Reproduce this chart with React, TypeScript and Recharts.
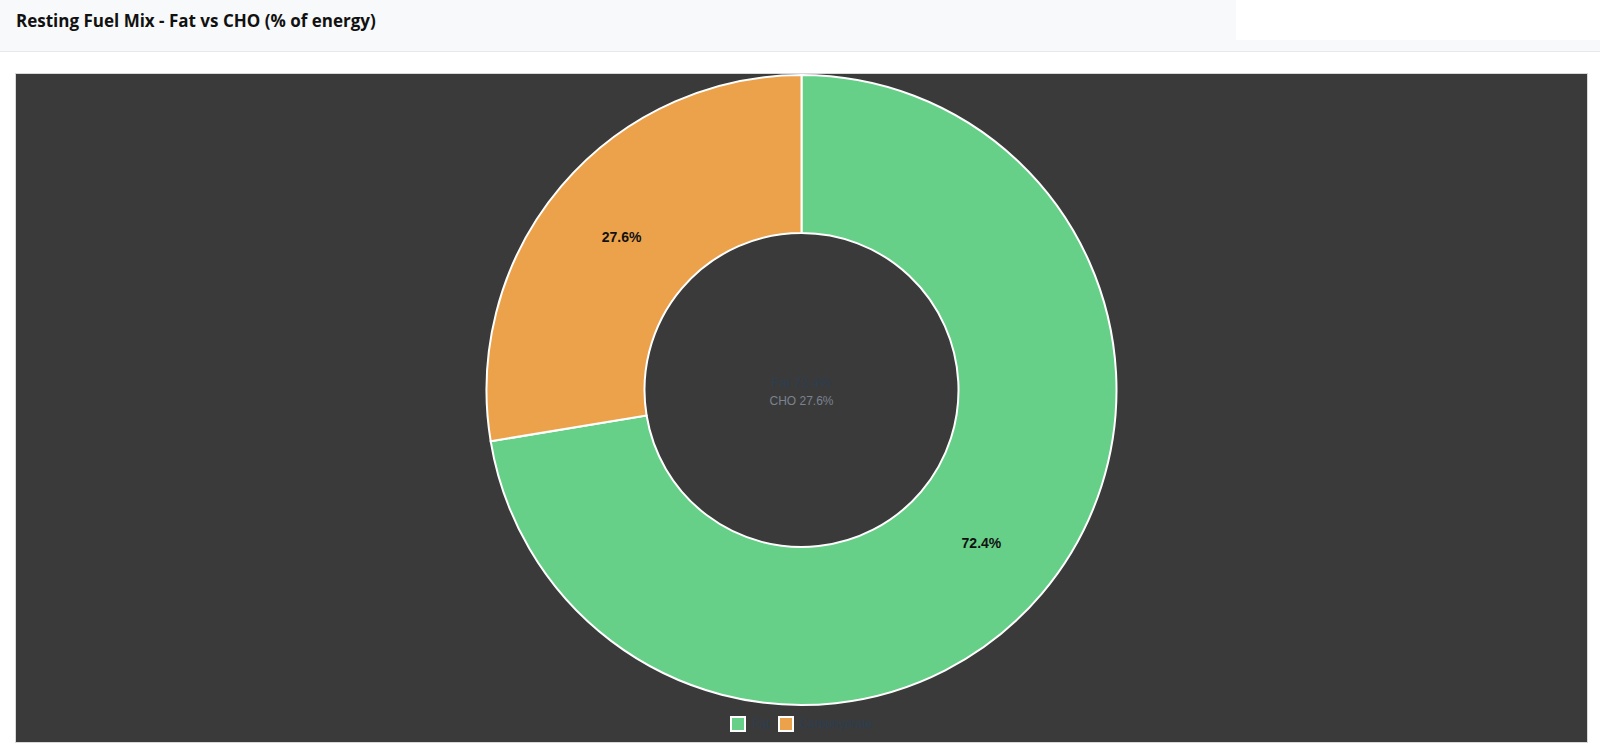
import React from "react";
import { PieChart, Pie, Cell, Legend, Label } from "recharts";

const categories = ["Fat", "Carbohydrate"];
const shortNames = ["Fat", "CHO"];
const values = [72.4, 27.6];
const colors = ["#66cf88", "#eba24b"];

const data = categories.map((name, i) => ({ name, value: values[i] }));

const CHART_W = 1571;
const CHART_H = 668;
const PIE_CX = 785.5;
const PIE_CY = 316;

const RADIAN = Math.PI / 180;

const renderSliceLabel = (props: any) => {
  const { cx, cy, midAngle, innerRadius, outerRadius, percent } = props;
  const r = (innerRadius + outerRadius) / 2;
  const x = cx + r * Math.cos(-midAngle * RADIAN);
  const y = cy + r * Math.sin(-midAngle * RADIAN);
  return (
    <text
      x={x}
      y={y}
      fill="#111"
      textAnchor="middle"
      dominantBaseline="central"
      fontFamily="'Liberation Sans', Arial, sans-serif"
      fontWeight="bold"
      fontSize={14}
    >
      {(percent * 100).toFixed(1)}%
    </text>
  );
};

const CenterLabel = () => {
  const cx = PIE_CX;
  const cy = PIE_CY;
  return (
    <g fontFamily="'Liberation Sans', Arial, sans-serif">
      <text x={cx} y={cy - 8} textAnchor="middle" dominantBaseline="central" fontSize={13} fill="#2c3e50">
        {`${shortNames[0]} ${values[0].toFixed(1)}%`}
      </text>
      <text x={cx} y={cy + 11} textAnchor="middle" dominantBaseline="central" fontSize={12} fill="#7a8290">
        {`${shortNames[1]} ${values[1].toFixed(1)}%`}
      </text>
    </g>
  );
};

const LegendContent = () => (
  <div
    style={{
      display: "flex",
      justifyContent: "center",
      alignItems: "center",
      fontFamily: "'Liberation Sans', Arial, sans-serif",
      fontSize: 12,
      color: "#2c3e50",
      height: 16,
    }}
  >
    {categories.map((c, i) => (
      <div key={c} style={{ display: "flex", alignItems: "center", marginRight: i === 0 ? 8 : 0 }}>
        <span
          style={{
            display: "inline-block",
            width: 12,
            height: 12,
            background: colors[i],
            border: "2px solid #ffffff",
            marginRight: 6,
          }}
        />
        <span>{c}</span>
      </div>
    ))}
  </div>
);

export default function App() {
  return (
    <div style={{ position: "absolute", left: 0, top: 0, width: 1600, height: 748, background: "#ffffff", overflow: "hidden" }}>
      <div
        style={{
          position: "absolute",
          left: 0,
          top: 0,
          width: 1600,
          height: 51,
          background: "#f8f9fa",
          borderBottom: "1px solid #e6e8eb",
        }}
      />
      <div style={{ position: "absolute", left: 1236, top: 0, width: 364, height: 40, background: "#ffffff" }} />
      <div
        style={{
          position: "absolute",
          left: 16,
          top: 9,
          fontFamily: "'Open Sans', sans-serif",
          fontWeight: 700,
          fontSize: 17,
          color: "#111",
          lineHeight: "24px",
        }}
      >
        Resting Fuel Mix - Fat vs CHO (% of energy)
      </div>
      <div
        style={{
          position: "absolute",
          left: 15,
          top: 73,
          width: 1573,
          height: 670,
          border: "1px solid #d8d8d8",
          boxSizing: "border-box",
        }}
      />
      <div style={{ position: "absolute", left: 16, top: 74, width: CHART_W, height: CHART_H, background: "#3a3a3a" }}>
        <PieChart width={CHART_W} height={CHART_H} margin={{ top: 0, right: 0, bottom: 0, left: 0 }}>
          <Pie
            data={data}
            dataKey="value"
            nameKey="name"
            cx={PIE_CX}
            cy={PIE_CY}
            outerRadius={315}
            innerRadius={157}
            startAngle={90}
            endAngle={-270}
            stroke="#ffffff"
            strokeWidth={2}
            label={renderSliceLabel}
            labelLine={false}
            isAnimationActive={false}
          >
            {data.map((d, i) => (
              <Cell key={d.name} fill={colors[i]} />
            ))}
            <Label content={<CenterLabel />} position="center" />
          </Pie>
          <Legend content={<LegendContent />} verticalAlign="bottom" wrapperStyle={{ bottom: 10, left: 0, width: CHART_W }} />
        </PieChart>
      </div>
    </div>
  );
}
